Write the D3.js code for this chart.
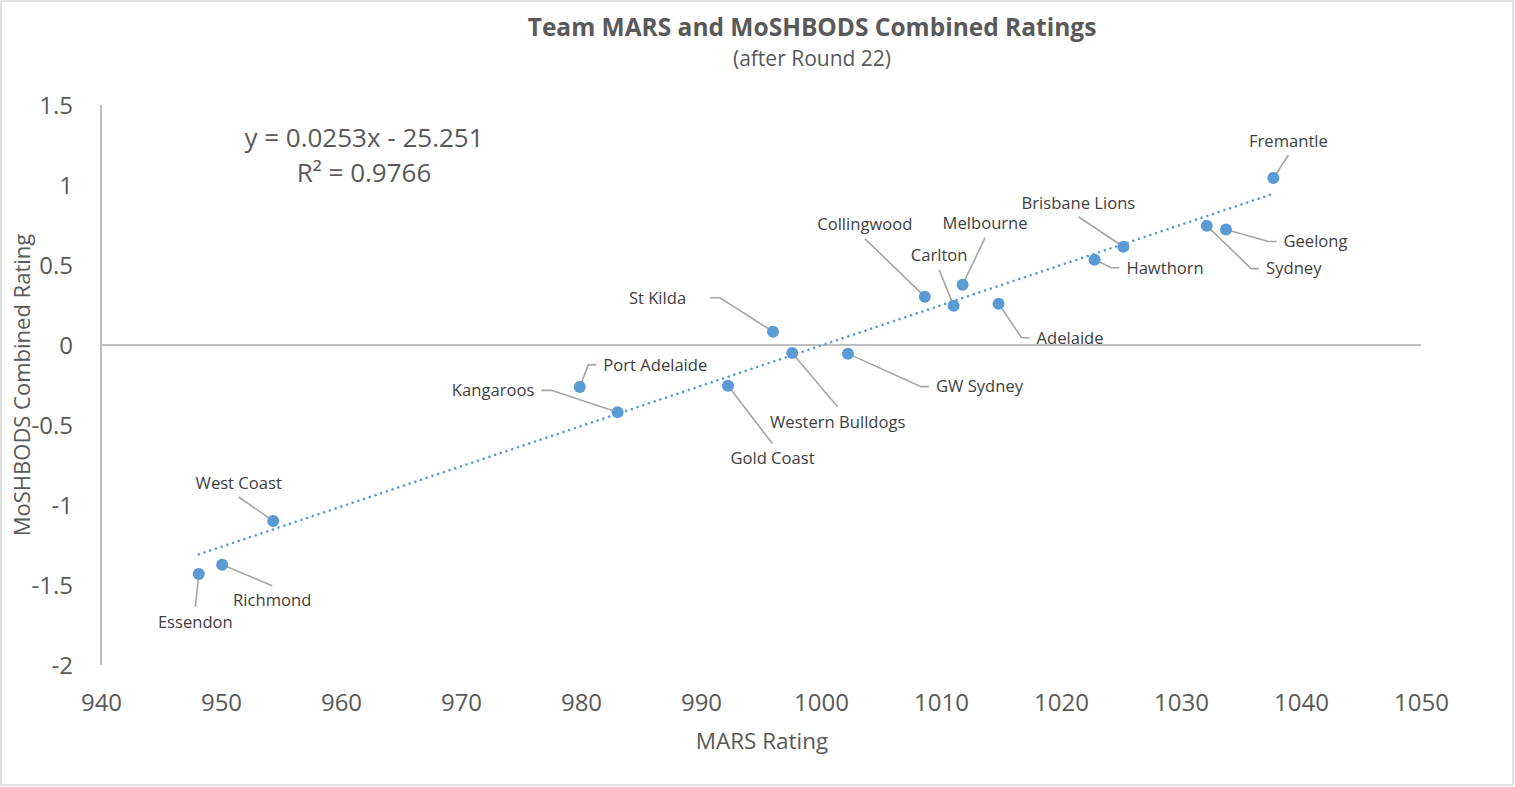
<!DOCTYPE html>
<html><head><meta charset="utf-8">
<script src="https://cdn.jsdelivr.net/npm/d3@7"></script>
<style>body{margin:0;background:#fff}svg{display:block;font-family:"Open Sans",sans-serif}</style>
</head><body><svg id="c" width="1515" height="787"></svg>
<script>
// ---- data ----
const teams = ["Fremantle","Geelong","Sydney","Brisbane Lions","Hawthorn","Adelaide","Melbourne","Carlton","Collingwood","St Kilda","Western Bulldogs","GW Sydney","Gold Coast","Port Adelaide","Kangaroos","West Coast","Richmond","Essendon"];
const marsRating = [1037.7,1033.75,1032.15,1025.2,1022.8,1014.8,1011.8,1011.05,1008.65,996.0,997.6,1002.25,992.25,979.9,983.05,954.35,950.1,948.15];
const combinedRating = [1.044,0.722,0.746,0.614,0.533,0.258,0.377,0.246,0.302,0.083,-0.05,-0.054,-0.254,-0.262,-0.421,-1.1,-1.373,-1.431];
const xTicks = [940,950,960,970,980,990,1000,1010,1020,1030,1040,1050];
const yTicks = [1.5,1,0.5,0,-0.5,-1,-1.5,-2];
const equationText = ["y = 0.0253x - 25.251","R² = 0.9766"];

// ---- label layout (offset of label centre from marker, leader style) ----
const labelLayout = {
  "Fremantle":[15,-37,"b"],"Brisbane Lions":[-45,-44,"b"],"Geelong":[89.5,12,"r"],
  "Sydney":[87,43,"r"],"Hawthorn":[70.5,8,"r"],"Melbourne":[22.5,-61,"b"],
  "Carlton":[-14.5,-50,"b"],"Collingwood":[-60,-72,"b"],"Adelaide":[71.5,34,"r"],
  "St Kilda":[-115.5,-34,"l",24],"Western Bulldogs":[45.5,69,"t"],"GW Sydney":[131.5,33,"r"],
  "Gold Coast":[44.5,73,"t"],"Port Adelaide":[75.5,-22,"r"],"Kangaroos":[-124.5,-22,"l"],
  "West Coast":[-34.5,-38,"b"],"Richmond":[50,36,"t"],"Essendon":[-3.5,48,"t"]
};

const svg = d3.select("#c");
const W = 1515, H = 787;
const m = {l:101, r:1421, t:105, b:665};
const x = d3.scaleLinear().domain([940,1050]).range([m.l,m.r]);
const y = d3.scaleLinear().domain([-2,1.5]).range([m.b,m.t]);
const blue = "#5b9bd5", grey = "#bfbfbf", txt = "#595959";

svg.append("rect").attr("x",1).attr("y",1).attr("width",W-3).attr("height",H-3)
  .attr("fill","#fff").attr("stroke","#d9d9d9").attr("stroke-width",1.5);

// title
svg.append("text").attr("x",812).attr("y",36).attr("text-anchor","middle")
  .attr("font-size",24.5).attr("font-weight","bold").attr("fill",txt)
  .text("Team MARS and MoSHBODS Combined Ratings");
svg.append("text").attr("x",812).attr("y",66).attr("text-anchor","middle")
  .attr("font-size",21).attr("fill",txt).text("(after Round 22)");

// axes
const xAxis = d3.axisBottom(x).tickValues(xTicks).tickSize(0).tickPadding(0).tickFormat(d3.format("d"));
const gx = svg.append("g").attr("transform",`translate(0,${m.b})`).call(xAxis);
gx.select(".domain").remove();
gx.selectAll("text").attr("font-size",24).attr("fill",txt).attr("font-family","'Open Sans',sans-serif")
  .attr("dy",0).attr("y",46);

const yAxis = d3.axisLeft(y).tickValues(yTicks).tickSize(0).tickPadding(0).tickFormat(d=>String(d));
const gy = svg.append("g").attr("transform",`translate(${m.l},0)`).call(yAxis);
gy.select(".domain").remove();
gy.selectAll("text").attr("font-size",24).attr("fill",txt).attr("font-family","'Open Sans',sans-serif")
  .attr("x",-28).attr("dy","0.35em");

// axis lines
svg.append("line").attr("x1",x(940)).attr("x2",x(940)).attr("y1",y(1.5)).attr("y2",y(-2))
  .attr("stroke",grey).attr("stroke-width",2);
svg.append("line").attr("x1",x(940)).attr("x2",x(1050)).attr("y1",y(0)).attr("y2",y(0))
  .attr("stroke",grey).attr("stroke-width",2);

// axis titles
svg.append("text").attr("x",762).attr("y",749).attr("text-anchor","middle")
  .attr("font-size",22.5).attr("fill",txt).text("MARS Rating");
svg.append("text").attr("transform","translate(30,385) rotate(-90)").attr("text-anchor","middle")
  .attr("font-size",22).attr("fill",txt).text("MoSHBODS Combined Rating");

// trendline (least squares)
const n = marsRating.length;
const mx = d3.mean(marsRating), my = d3.mean(combinedRating);
let sxy=0,sxx=0;
for(let i=0;i<n;i++){sxy+=(marsRating[i]-mx)*(combinedRating[i]-my);sxx+=(marsRating[i]-mx)**2;}
const slope = sxy/sxx, icpt = my - slope*mx;
const [xmin,xmax] = d3.extent(marsRating);
svg.append("line").attr("x1",x(xmin)).attr("y1",y(slope*xmin+icpt))
  .attr("x2",x(xmax)).attr("y2",y(slope*xmax+icpt))
  .attr("stroke",blue).attr("stroke-width",2.6).attr("stroke-linecap","round")
  .attr("stroke-dasharray","0.01,6");

// equation
svg.append("text").attr("x",364).attr("y",147).attr("text-anchor","middle")
  .attr("font-size",26).attr("fill",txt).text(equationText[0]);
svg.append("text").attr("x",364).attr("y",182).attr("text-anchor","middle")
  .attr("font-size",26).attr("fill",txt).text(equationText[1]);

// labels + leaders
const pts = teams.map((t,i)=>({t, px:x(marsRating[i]), py:y(combinedRating[i])}));
const gLead = svg.append("g"), gLab = svg.append("g"), gPts = svg.append("g");
pts.forEach(p=>{
  const L = labelLayout[p.t];
  const cx = p.px+L[0], cy = p.py+L[1];
  const tx = gLab.append("text").attr("x",cx).attr("y",cy).attr("dy","0.35em")
    .attr("text-anchor","middle").attr("font-size",16.6).attr("fill","#404040").text(p.t);
  const w = tx.node().getComputedTextLength();
  let path;
  if(L[2]==="b") path=[[cx,cy+14],[p.px,p.py]];
  else if(L[2]==="t") path=[[cx,cy-15],[p.px,p.py]];
  else if(L[2]==="r"){const g=L[3]||7; const e=cx-w/2-g; path=[[p.px,p.py],[e-8,cy],[e,cy]];}
  else {const g=L[3]||7; const e=cx+w/2+g; path=[[p.px,p.py],[e+10,cy],[e,cy]];}
  gLead.append("path").attr("d",d3.line()(path)).attr("fill","none")
    .attr("stroke","#a6a6a6").attr("stroke-width",1.6);
});
gPts.selectAll("circle").data(pts).join("circle")
  .attr("cx",d=>d.px).attr("cy",d=>d.py).attr("r",6).attr("fill",blue);
</script></body></html>
